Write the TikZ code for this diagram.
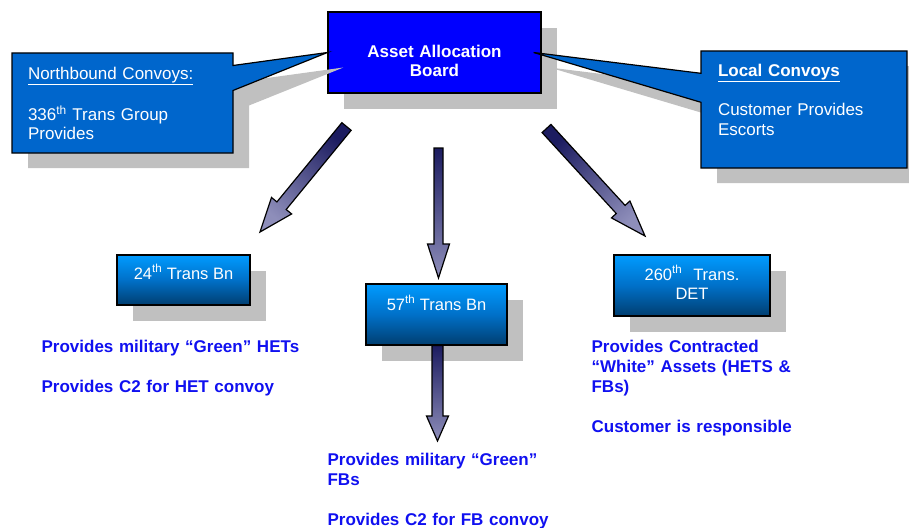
\documentclass[tikz,border=0pt]{standalone}
\usepackage{fontspec}
\setmainfont{Liberation Sans}
\usepackage{tikz}
\usetikzlibrary{positioning,calc,shapes.callouts,shadows}
\definecolor{boardblue}{RGB}{0,0,255}
\definecolor{calloutblue}{RGB}{0,102,204}
\definecolor{unitlight}{RGB}{0,155,255}
\definecolor{unitmid}{RGB}{0,112,200}
\definecolor{unitdark}{RGB}{0,62,112}
\definecolor{arrowdark}{RGB}{28,28,96}
\definecolor{arrowlight}{RGB}{142,142,186}
\definecolor{shadowgray}{RGB}{192,192,192}
\definecolor{notetext}{RGB}{16,16,240}
\tikzset{
  convoypic/.style={
    x=1pt,y=-1pt
    ,line width=1.2pt
    ,font=\fontsize{17}{19.5}\selectfont
  }
  ,shadowed/.style={drop shadow={shadow xshift=16pt,shadow yshift=-16pt
    ,fill=shadowgray,opacity=1}}
  ,boardbox/.style={draw=black,fill=boardblue,shadowed
    ,minimum width=213pt,minimum height=81pt,inner sep=0pt
    ,text width=200pt,align=center,text=white
    ,font=\fontsize{17}{19.5}\selectfont\bfseries}
  ,convoynote/.style={rectangle callout,draw=black,fill=calloutblue
    ,drop shadow={shadow xshift=16pt,shadow yshift=-15pt,fill=shadowgray,opacity=1}
    ,inner xsep=16pt,inner ysep=2pt,align=left,text=white}
  ,unitbox/.style={draw=black,shadowed
    ,top color=unitlight,bottom color=unitdark,middle color=unitmid
    ,inner sep=0pt,align=center,text=white
    ,font=\fontsize{16.5}{19.5}\selectfont}
  ,tasktext/.style={anchor=base west,inner sep=0pt,align=left,text=notetext
    ,font=\fontsize{17}{20}\selectfont\bfseries}
  ,fatarrow/.style={draw=black,line join=miter
    ,top color=arrowdark,bottom color=arrowlight}
}
% block arrow: [options] tail, tip, half shaft, half head, head length
\newcommand\fatarrow[6][]{
  \coordinate (neck) at ($(#3)!#6!(#2)$);
  \draw[fatarrow,#1] ($(#2)!#4!90:(#3)$) -- ($(neck)!#4!90:(#3)$)
    -- ($(neck)!#5!90:(#3)$) -- (#3) -- ($(neck)!#5!-90:(#3)$)
    -- ($(neck)!#4!-90:(#3)$) -- ($(#2)!#4!-90:(#3)$) -- cycle;
}

\begin{document}
\begin{tikzpicture}[convoypic]
  \useasboundingbox (0,0) rectangle (909,527);
  % board
  \node[boardbox,text height=29pt] (board) at (434.5,52.5) {Asset Allocation\\Board};
  % convoy callouts
  \node[convoynote,minimum width=221pt,minimum height=100pt,text width=189pt
    ,text height=12pt,text depth=60pt
    ,callout absolute pointer={(board.west)},callout pointer width=25pt
  ] (northbound) at (122.5,103)
    {\underline{Northbound Convoys:}\\[20pt]336\textsuperscript{th} Trans Group\\Provides};
  \node[convoynote,minimum width=206pt,minimum height=117pt,text width=172pt
    ,text height=13pt,text depth=80pt
    ,callout absolute pointer={([xshift=-8pt]board.east)},callout pointer width=29pt
  ] (local) at (804,109.5)
    {\textbf{\underline{Local Convoys}}\\[20pt]Customer Provides\\Escorts};
  % units
  \node[unitbox,minimum width=133pt,minimum height=50pt
    ,text height=12pt,text depth=14pt] (bn24) at (183.5,280)
    {24\textsuperscript{th} Trans Bn};
  \node[unitbox,minimum width=141pt,minimum height=61pt
    ,text height=12pt,text depth=21pt] (bn57) at (436.5,314.5)
    {57\textsuperscript{th} Trans Bn};
  \node[unitbox,minimum width=156pt,minimum height=61pt
    ,text width=150pt,text height=8.5pt] (det260) at (692,285.5)
    {260\textsuperscript{th}\ \ Trans.\\DET};
  % arrows
  \coordinate (to24a) at (346.5,126.5);
  \coordinate (to24b) at (260,232);
  \coordinate (to57a) at (438.5,148);
  \coordinate (to57b) at (438.5,278);
  \coordinate (to260a) at (546.5,128.5);
  \coordinate (to260b) at (645,236);
  \coordinate (fbtail) at (bn57.south -| 437.5,0);
  \coordinate (fbtip) at (437.5,441);
  \fatarrow[shading angle=-39]{to24a}{to24b}{6pt}{13pt}{34pt}
  \fatarrow{to57a}{to57b}{4.5pt}{11pt}{34pt}
  \fatarrow[shading angle=42]{to260a}{to260b}{6pt}{12.5pt}{36pt}
  \fatarrow{fbtail}{fbtip}{5.5pt}{11pt}{25pt}
  % tasks
  \node[tasktext,text width=270pt] (task24) at (41,352.7)
    {Provides military “Green” HETs\\[20pt]Provides C2 for HET convoy};
  \node[tasktext,text width=240pt] (task57) at (327,465)
    {Provides military “Green”\\FBs\\[20pt]Provides C2 for FB convoy};
  \node[tasktext,text width=230pt] (task260) at (591,352)
    {Provides Contracted\\“White” Assets (HETS \&\\FBs)\\[20pt]Customer is responsible};
\end{tikzpicture}
\end{document}
